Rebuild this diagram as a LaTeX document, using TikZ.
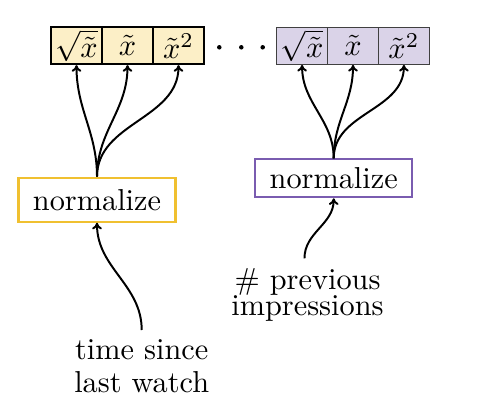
\documentclass[tikz,border=0pt]{standalone}
\usepackage{amsmath}
\usetikzlibrary{arrows.meta}
\definecolor{cream}{HTML}{FCEFC7}
\definecolor{lav}{HTML}{DAD3E8}
\definecolor{gold}{HTML}{F0C030}
\definecolor{purp}{HTML}{7A5CB0}
\begin{document}
\begin{tikzpicture}[x=0.33pt,y=-0.33pt,
  cellA/.style={draw=black,line width=0.55pt,fill=cream,minimum width=16.8pt,minimum height=12.2pt,inner sep=0pt},
  cellB/.style={draw=black!75,line width=0.4pt,fill=lav,minimum width=16.8pt,minimum height=12.2pt,inner sep=0pt},
  normA/.style={draw=gold,line width=0.7pt,minimum width=51.8pt,minimum height=14.5pt,inner sep=0pt},
  normB/.style={draw=purp,line width=0.7pt,minimum width=51.8pt,minimum height=12.5pt,inner sep=0pt},
  conn/.style={-{To[length=2.2pt,width=3.2pt]},line width=0.65pt,out=90,in=-90},
  dot/.style={circle,fill=black,inner sep=0pt,minimum size=1.5pt},
  lbl/.style={align=center,anchor=north,inner sep=3pt}]
\useasboundingbox (0,0) rectangle (478,414);
% left cells
\node[cellA] (l1) at (76.5,45.8) {$\sqrt{\tilde{x}}$};
\node[cellA] (l2) at (127.5,45.8) {$\tilde{x}$};
\node[cellA] (l3) at (178.5,45.8) {$\tilde{x}^2$};
% dots
\node[dot] (d1) at (219.3,47.3) {};
\node[dot] (d2) at (241.3,47.3) {};
\node[dot] (d3) at (262.7,47.3) {};
% right cells
\node[cellB] (r1) at (302.1,45.8) {$\sqrt{\tilde{x}}$};
\node[cellB] (r2) at (353,45.8) {$\tilde{x}$};
\node[cellB] (r3) at (403.9,45.8) {$\tilde{x}^2$};
% normalize boxes
\node[normA] (nl) at (97,199.7) {normalize};
\node[normB] (nr) at (333.7,178.3) {normalize};
% labels
\node[lbl,font=\fontsize{10}{11}\selectfont] (tl) at (141.7,330) {time since\\last watch};
\node[lbl,font=\fontsize{10}{8.8}\selectfont] (tr) at (307.5,258.3) {\# previous\\impressions};
% connectors
\draw[conn] (nl.north) to (l1.south);
\draw[conn] (nl.north) to (l2.south);
\draw[conn] (nl.north) to (l3.south);
\draw[conn] (nr.north) to (r1.south);
\draw[conn] (nr.north) to (r2.south);
\draw[conn] (nr.north) to (r3.south);
\draw[conn] (tl.north) to (nl.south);
\draw[conn] ([xshift=-1pt]tr.north) to (nr.south);
\end{tikzpicture}
\end{document}
